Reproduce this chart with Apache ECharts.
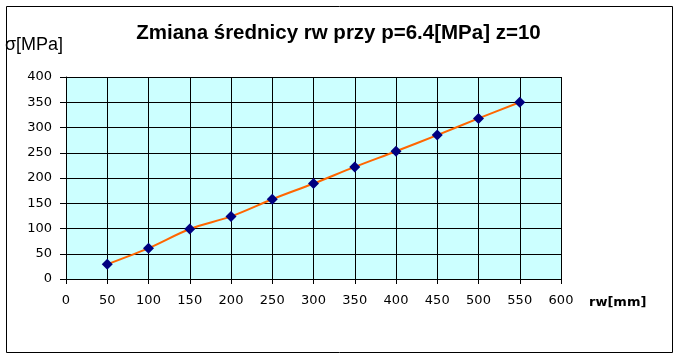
<!DOCTYPE html>
<html>
<head>
<meta charset="utf-8">
<script src="https://cdn.jsdelivr.net/npm/echarts@6/dist/echarts.min.js"></script>
<style>html,body{margin:0;padding:0;background:#fff}#c{width:677px;height:357px}</style>
</head>
<body>
<div id="c"></div>
<script>
var rw = [50, 100, 150, 200, 250, 300, 350, 400, 450, 500, 550];
var sigma = [29, 61, 99, 124, 158, 189, 222, 253, 285, 318, 350];
var titleText = 'Zmiana średnicy rw przy p=6.4[MPa] z=10';
var yName = 'σ[MPa]';
var xName = 'rw[mm]';

var chart = echarts.init(document.getElementById('c'), null, {renderer: 'canvas'});
var font = 'Arial, "Liberation Sans", sans-serif';
var tickFont = '"DejaVu Sans", sans-serif';
chart.setOption({
  animation: false,
  backgroundColor: '#fff',
  title: {
    text: titleText, left: 'center', top: 18,
    textStyle: {fontFamily: font, fontSize: 20.5, fontWeight: 'bold', color: '#000'}
  },
  graphic: [
    {type: 'rect', left: 4, top: 4, shape: {x: 0.5, y: 0.5, width: 666, height: 346}, style: {fill: 'none', stroke: '#000', lineWidth: 1}, silent: true, z: -1},
    {type: 'text', left: 5, top: 36, style: {text: yName, fontFamily: font, fontSize: 18, fill: '#000'}},
    {type: 'text', left: 589, top: 296, style: {text: xName, fontFamily: tickFont, fontSize: 13, fontWeight: 'bold', fill: '#000'}}
  ],
  grid: {left: 66, right: 116, top: 77, bottom: 78, show: true, backgroundColor: '#CCFFFF', borderWidth: 0},
  xAxis: {
    type: 'value', min: 0, max: 600, interval: 50,
    axisLine: {show: true, lineStyle: {color: '#000', width: 1}},
    axisTick: {show: true, length: 5, lineStyle: {color: '#000'}},
    axisLabel: {margin: 15, fontFamily: tickFont, fontSize: 13, color: '#000'},
    splitLine: {show: true, lineStyle: {color: '#000', width: 1}}
  },
  yAxis: {
    type: 'value', min: 0, max: 400, interval: 50,
    axisLine: {show: true, lineStyle: {color: '#000', width: 1}},
    axisTick: {show: true, length: 6, lineStyle: {color: '#000'}},
    axisLabel: {margin: 14, fontFamily: tickFont, fontSize: 13, color: '#000'},
    splitLine: {show: true, lineStyle: {color: '#000', width: 1}}
  },
  series: [{
    type: 'line',
    data: rw.map(function (x, i) { return [x, sigma[i]]; }),
    smooth: 0.3,
    lineStyle: {color: '#FF6600', width: 2},
    symbol: 'diamond', symbolSize: 11,
    itemStyle: {color: '#000080', borderWidth: 0}
  }]
});
</script>
</body>
</html>
